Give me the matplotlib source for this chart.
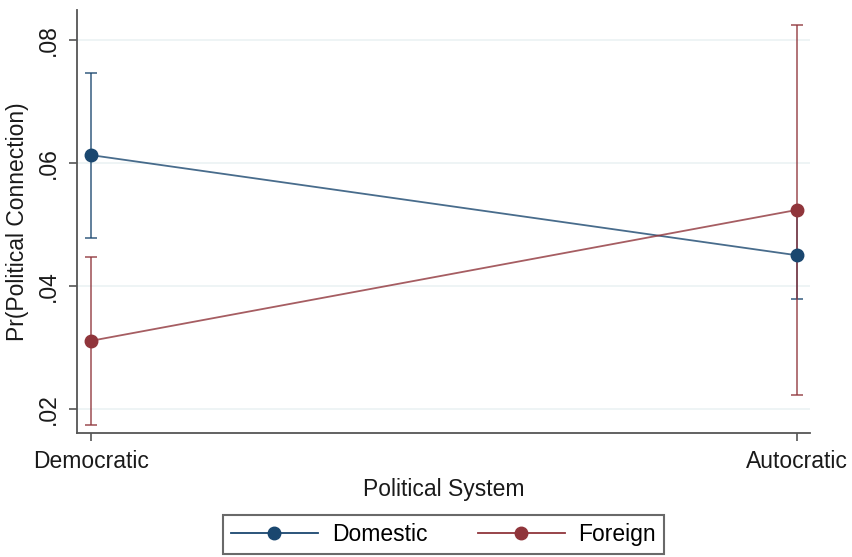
import matplotlib.pyplot as plt
from matplotlib.lines import Line2D

plt.rcParams['font.family'] = ['Liberation Sans', 'DejaVu Sans']

# margins de Pr(connexion politique) par système politique
systemes = ['Democratic', 'Autocratic']
domestic = [0.0613, 0.0450]
domestic_bas = [0.0478, 0.0379]
domestic_haut = [0.0746, 0.0521]
foreign = [0.0311, 0.0524]
foreign_bas = [0.0174, 0.0223]
foreign_haut = [0.0447, 0.0824]
yticks = [0.02, 0.04, 0.06, 0.08]
ylabels = ['.02', '.04', '.06', '.08']

bleu = '#1a476f'
rouge = '#90353b'

fig = plt.figure(figsize=(8.53, 5.57), dpi=100)
ax = fig.add_axes([0.0903, 0.2226, 0.8593, 0.7594])

x = list(range(len(systemes)))
for val, bas, haut, coul, nom in [(domestic, domestic_bas, domestic_haut, bleu, 'Domestic'),
                                  (foreign, foreign_bas, foreign_haut, rouge, 'Foreign')]:
    err = [[v - b for v, b in zip(val, bas)], [h - v for v, h in zip(val, haut)]]
    ax.errorbar(x, val, yerr=err, fmt='none', ecolor=coul, elinewidth=1.3,
                capsize=4.5, capthick=1.3, alpha=0.75, zorder=2)
    ax.plot(x, val, color=coul, lw=1.3, alpha=0.8, zorder=3)
    ax.plot(x, val, ls='none', marker='o', ms=9, color=coul, zorder=4, label=nom)

ax.set_xlim(-0.02, 1.018)
ax.set_ylim(0.0161, 0.0849)
ax.set_xticks(x)
ax.set_xticklabels(systemes, fontsize=16.5, color='#1a1a1a')
ax.set_yticks(yticks)
ax.set_yticklabels(ylabels, rotation=90, va='center', fontsize=16.5, color='#1a1a1a')
ax.grid(axis='y', color='#edf3f4', lw=1.3)
ax.set_axisbelow(True)
ax.tick_params(length=6, width=1.2, color='#555555', pad=6)
for s in ['top', 'right']:
    ax.spines[s].set_visible(False)
for s in ['left', 'bottom']:
    ax.spines[s].set_color('#555555')
    ax.spines[s].set_linewidth(1.3)

ax.set_xlabel('Political System', fontsize=16.5, color='#1a1a1a', labelpad=4)
ax.set_ylabel('Pr(Political Connection)', fontsize=16.5, color='#1a1a1a', labelpad=6)

l = ax.get_legend_handles_labels()[1]
poignees = [Line2D([], [], color=c, lw=1.3, marker='o', ms=9, markeredgecolor=c)
            for c in (bleu, rouge)]
leg = fig.legend(poignees, l, loc='center', bbox_to_anchor=(0.52, 0.04), ncol=2,
                 fontsize=16.5, frameon=True, fancybox=False, handlelength=3.8,
                 handletextpad=0.6, columnspacing=2.2, borderpad=0.35)
leg.get_frame().set_edgecolor('#444444')
leg.get_frame().set_linewidth(1.5)

fig.savefig('out.png', dpi=100)
